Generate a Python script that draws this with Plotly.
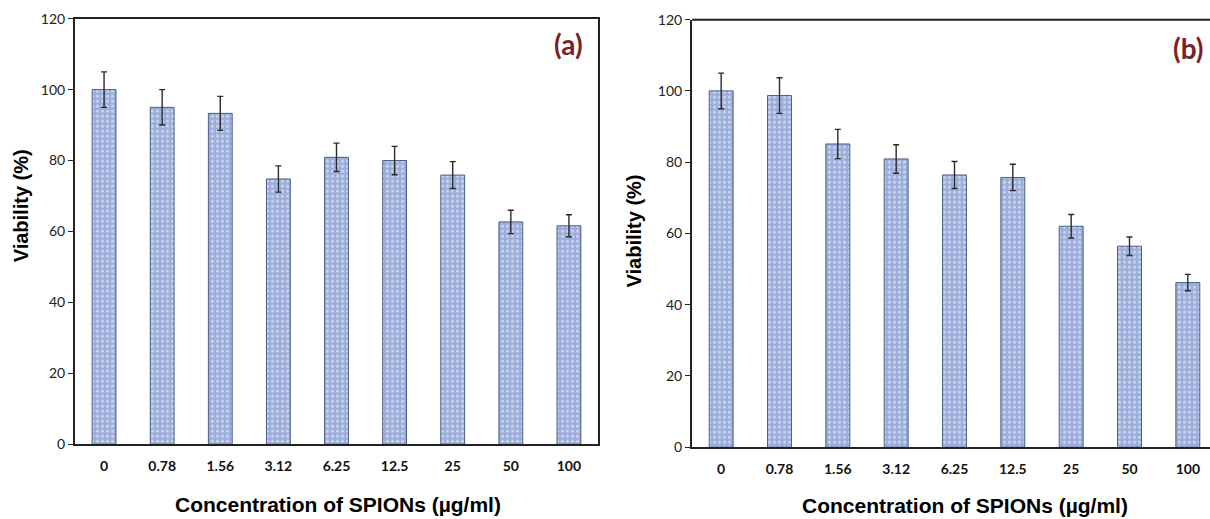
import plotly.graph_objects as go

categories = ["0", "0.78", "1.56", "3.12", "6.25", "12.5", "25", "50", "100"]
viability_a = [100, 95, 93.3, 74.8, 80.9, 80.0, 75.9, 62.7, 61.6]
error_a = [5, 5, 4.8, 3.7, 4.0, 4.0, 3.8, 3.3, 3.1]
viability_b = [100, 98.7, 85.1, 80.9, 76.4, 75.7, 62.0, 56.4, 46.2]
error_b = [5, 5, 4.1, 4.0, 3.8, 3.7, 3.3, 2.6, 2.3]
y_ticks = [0, 20, 40, 60, 80, 100, 120]

W, H = 1210, 519
BAR = "#9BADDA"
DOT = "#CBD6F0"
EDGE = "#4B5C86"


def bar(vals, errs, xa, ya):
    return go.Bar(
        x=categories, y=vals, xaxis=xa, yaxis=ya, width=0.41,
        marker=dict(color=BAR, line=dict(color=EDGE, width=1),
                    pattern=dict(shape=".", bgcolor=BAR, fgcolor=DOT,
                                 size=5, solidity=0.3, fillmode="replace")),
        error_y=dict(type="data", array=errs, visible=True,
                     color="#2b2b2b", thickness=1.4, width=3),
        showlegend=False, hoverinfo="y",
    )


fig = go.Figure()
fig.add_trace(bar(viability_a, error_a, "x", "y"))
fig.add_trace(bar(viability_b, error_b, "x2", "y2"))

tickfont_x = dict(family="Lato", size=14, color="#111", weight="bold")
tickfont_y = dict(family="Lato", size=14, color="#222")

xa_common = dict(type="category", showline=True, linecolor="#222", linewidth=2,
                 ticks="", showgrid=False, zeroline=False, tickfont=tickfont_x,
                 ticklabelstandoff=8, fixedrange=True)
ya_common = dict(range=[0, 120], tickvals=y_ticks, showline=True, linecolor="#222",
                 linewidth=2, ticks="outside", ticklen=5, tickcolor="#222",
                 showgrid=False, zeroline=False, tickfont=tickfont_y, fixedrange=True)

fig.update_layout(
    width=W, height=H,
    margin=dict(l=0, r=0, t=0, b=0),
    paper_bgcolor="white", plot_bgcolor="white",
    xaxis=dict(domain=[75 / W, 598 / W], anchor="y", range=[-0.5, 8.5],
               mirror=True, **xa_common),
    yaxis=dict(domain=[(H - 450) / H, (H - 10) / H], anchor="x", mirror=True,
               **ya_common),
    xaxis2=dict(domain=[692 / W, 1.0], anchor="y2", range=[-0.5, 8.38],
                mirror=False, **xa_common),
    yaxis2=dict(domain=[(H - 453) / H, (H - 11) / H], anchor="x2", mirror=False,
                **ya_common),
)

# top border of panel (b), cut off at the right edge
fig.add_shape(type="line", xref="x2 domain", yref="y2 domain", x0=0, x1=1, y0=1, y1=1,
              line=dict(color="#222", width=2))

title_font = dict(family="Arial", size=20, color="#000")
xt_font = dict(family="Arial", size=21, color="#000")
ann = [
    dict(text="<b>(a)</b>", x=568, y=36, font=dict(family="Lato", size=28, color="#7A1F2B")),
    dict(text="<b>(b)</b>", x=1188, y=40, font=dict(family="Lato", size=28, color="#7A1F2B")),
    dict(text="<b>Viability (%)</b>", x=21, y=204, textangle=-90, font=title_font),
    dict(text="<b>Viability (%)</b>", x=634, y=230, textangle=-90, font=title_font),
    dict(text="<b>Concentration of SPIONs (µg/ml)</b>", x=338, y=512, font=xt_font),
    dict(text="<b>Concentration of SPIONs (µg/ml)</b>", x=965, y=513, font=xt_font),
]
for a in ann:
    fig.add_annotation(xref="paper", yref="paper", x=a["x"] / W, y=1 - a["y"] / H,
                       text=a["text"], showarrow=False, xanchor="center", yanchor="middle",
                       textangle=a.get("textangle", 0), font=a["font"])

post = (
    "document.documentElement.style.margin='0';"
    "document.documentElement.style.overflow='hidden';"
    "document.body.style.margin='0';document.body.style.overflow='hidden';"
    "var d=document.getElementById('{plot_id}');"
    "d.style.position='fixed';d.style.left='0px';d.style.top='0px';"
)
fig.write_html("out.html", config={"displayModeBar": False, "staticPlot": True},
               post_script=post)
